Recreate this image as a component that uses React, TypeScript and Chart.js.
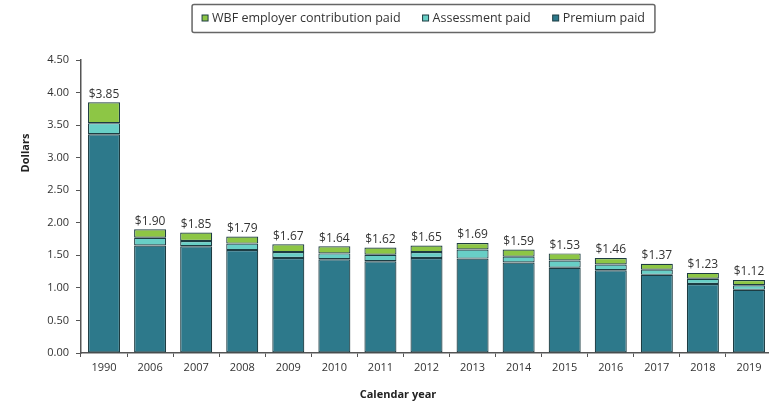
import React, { useEffect, useRef } from "react";
import { Chart, registerables } from "chart.js";

Chart.register(...registerables);

const categories = ["1990", "2006", "2007", "2008", "2009", "2010", "2011", "2012", "2013", "2014", "2015", "2016", "2017", "2018", "2019"];
const premiumPaid = [3.36, 1.65, 1.64, 1.58, 1.46, 1.44, 1.41, 1.46, 1.45, 1.39, 1.31, 1.27, 1.20, 1.06, 0.97];
const assessmentPaid = [0.17, 0.12, 0.08, 0.10, 0.09, 0.09, 0.10, 0.09, 0.14, 0.09, 0.11, 0.09, 0.08, 0.08, 0.07];
const wbfPaid = [0.32, 0.13, 0.13, 0.11, 0.12, 0.11, 0.11, 0.10, 0.10, 0.11, 0.11, 0.10, 0.09, 0.09, 0.08];
const yTicks = [0, 0.5, 1, 1.5, 2, 2.5, 3, 3.5, 4, 4.5];

const FONT = "'Open Sans', 'DejaVu Sans', sans-serif";
const TEXT = "#333333";
const BORDER = "#1d3c42";

const totalsPlugin = {
  id: "totals",
  afterDatasetsDraw(chart: any) {
    const ctx = chart.ctx;
    const top = chart.getDatasetMeta(chart.data.datasets.length - 1);
    ctx.save();
    ctx.font = `12px ${FONT}`;
    ctx.fillStyle = TEXT;
    ctx.textAlign = "center";
    ctx.textBaseline = "bottom";
    categories.forEach((_, i) => {
      const el = top.data[i];
      const total = premiumPaid[i] + assessmentPaid[i] + wbfPaid[i];
      ctx.fillText("$" + total.toFixed(2), el.x, el.y - 2);
    });
    ctx.restore();
  },
};

const decorPlugin = {
  id: "decor",
  afterDraw(chart: any) {
    const ctx = chart.ctx;
    ctx.save();
    // Axis titles
    ctx.fillStyle = "#222";
    ctx.font = `bold 11px ${FONT}`;
    ctx.textAlign = "center";
    ctx.textBaseline = "middle";
    ctx.fillText("Calendar year", 398, 395);
    ctx.translate(26, 153);
    ctx.rotate(-Math.PI / 2);
    ctx.fillText("Dollars", 0, 0);
    ctx.restore();

    // Legend
    ctx.save();
    const items = [...chart.data.datasets].reverse();
    ctx.font = `12.5px ${FONT}`;
    const sq = 6;
    const gapIn = 4;
    const gapItem = 22;
    const widths = items.map((d: any) => sq + gapIn + ctx.measureText(d.label).width);
    const total = widths.reduce((a: number, b: number) => a + b, 0) + gapItem * (items.length - 1);
    const cx = (chart.chartArea.left + chart.chartArea.right) / 2 - 3;
    let x = cx - total / 2;
    const y = 18;
    const padX = 10;
    ctx.strokeStyle = "#666";
    ctx.lineWidth = 1.5;
    ctx.beginPath();
    if (ctx.roundRect) ctx.roundRect(x - padX, 4.5, total + padX * 2, 28, 2);
    else ctx.rect(x - padX, 4.5, total + padX * 2, 28);
    ctx.stroke();
    ctx.textBaseline = "middle";
    ctx.textAlign = "left";
    items.forEach((d: any, i: number) => {
      ctx.fillStyle = d.backgroundColor;
      ctx.fillRect(x, y - sq / 2, sq, sq);
      ctx.strokeStyle = BORDER;
      ctx.lineWidth = 1;
      ctx.strokeRect(x, y - sq / 2, sq, sq);
      ctx.fillStyle = TEXT;
      ctx.fillText(d.label, x + sq + gapIn, y);
      x += widths[i] + gapItem;
    });
    ctx.restore();
  },
};

export default function App() {
  const ref = useRef<HTMLCanvasElement>(null);

  useEffect(() => {
    if (!ref.current) return;
    const chart = new Chart(ref.current, {
      type: "bar",
      data: {
        labels: categories,
        datasets: [
          { label: "Premium paid", data: premiumPaid, backgroundColor: "#2d798b", borderColor: BORDER, borderWidth: 1.2, borderSkipped: false },
          { label: "Assessment paid", data: assessmentPaid, backgroundColor: "#68cfc6", borderColor: BORDER, borderWidth: 1.2, borderSkipped: false },
          { label: "WBF employer contribution paid", data: wbfPaid, backgroundColor: "#8dc645", borderColor: BORDER, borderWidth: 1.2, borderSkipped: false },
        ],
      },
      options: {
        responsive: false,
        animation: false,
        devicePixelRatio: 1,
        layout: { padding: { top: 60, left: 0, right: 0, bottom: 0 } },
        datasets: { bar: { categoryPercentage: 1, barPercentage: 0.695 } },
        plugins: { legend: { display: false }, tooltip: { enabled: false }, title: { display: false } },
        scales: {
          x: {
            stacked: true,
            afterFit: (s: any) => { s.height = 52; },
            border: { color: "#555", width: 1.5 },
            grid: { display: true, drawOnChartArea: false, drawTicks: true, tickLength: 4, color: "#555", offset: true },
            ticks: { color: TEXT, font: { size: 11, family: FONT }, padding: 4, autoSkip: false, maxRotation: 0 },
          },
          y: {
            stacked: true,
            min: 0,
            max: 4.5,
            afterFit: (s: any) => { s.width = 81; },
            afterBuildTicks: (s: any) => { s.ticks = yTicks.map((v) => ({ value: v })); },
            border: { color: "#555", width: 1.5 },
            grid: { display: true, drawOnChartArea: false, drawTicks: true, tickLength: 5, color: "#555" },
            ticks: { color: TEXT, font: { size: 11, family: FONT }, padding: 7, callback: (v: any) => Number(v).toFixed(2) },
          },
        },
      },
      plugins: [totalsPlugin, decorPlugin],
    });
    return () => chart.destroy();
  }, []);

  return (
    <div style={{ position: "fixed", left: 0, top: 0, width: 769, height: 405, overflow: "hidden", background: "#fff" }}>
      <canvas ref={ref} width={772} height={405} style={{ width: 772, height: 405, display: "block" }} />
    </div>
  );
}
